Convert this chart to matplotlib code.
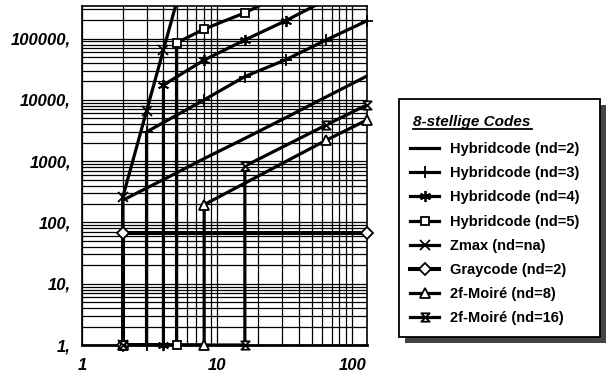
import matplotlib
matplotlib.use("Agg")
import matplotlib.pyplot as plt
from matplotlib.path import Path
from matplotlib.patches import Rectangle
from matplotlib.lines import Line2D
from matplotlib.ticker import FixedLocator, LogLocator, NullFormatter

# ---- data ----
hyb2_x = [2, 2, 4, 8, 16, 32, 64, 128]
hyb2_y = [1, 230, 500, 1100, 2350, 5100, 11200, 24500]
hyb3_x = [2, 3, 3, 8, 16, 32, 64, 128]
hyb3_y = [1, 1, 3000, 10000, 24000, 45000, 95000, 195000]
hyb4_x = [2, 4, 4, 8, 16, 32, 64]
hyb4_y = [1, 1, 17500, 44600, 95000, 195000, 430000]
hyb5_x = [2, 5, 5, 8, 16, 32]
hyb5_y = [1, 1, 85000, 143000, 263000, 560000]
zmax_x = [2, 2, 3, 4, 5]
zmax_y = [1, 256, 6561, 65536, 390625]
gray_x = [2, 2, 128]
gray_y = [1, 66, 66]
moire8_x = [2, 8, 8, 64, 128]
moire8_y = [1, 1, 195, 2200, 4700]
moire16_x = [2, 16, 16, 64, 128]
moire16_y = [1, 1, 830, 3900, 8300]

labels = ["Hybridcode (nd=2)", "Hybridcode (nd=3)", "Hybridcode (nd=4)",
          "Hybridcode (nd=5)", "Zmax (nd=na)", "Graycode (nd=2)",
          "2f-Moiré (nd=8)", "2f-Moiré (nd=16)"]
legend_title = "8-stellige Codes"
ytick_vals = [1, 10, 100, 1000, 10000, 100000]
ytick_labels = ["1,", "10,", "100,", "1000,", "10000,", "100000,"]
xtick_vals = [1, 10, 100]
xtick_labels = ["1", "10", "100"]

plt.rcParams['font.family'] = ['Liberation Sans', 'DejaVu Sans']

W, H = 607, 375
fig = plt.figure(figsize=(W / 100, H / 100), dpi=100)
ax = fig.add_axes([82 / W, 1 - 345 / H, (367 - 82) / W, (345 - 6) / H])
ax.set_xscale('log')
ax.set_yscale('log')
YMAX = 3.4e5
ax.set_xlim(1, 128)
ax.set_ylim(1, YMAX)

hourglass = Path([(-1, 1), (1, 1), (-1, -1), (1, -1), (-1, 1)],
                 [Path.MOVETO, Path.LINETO, Path.LINETO, Path.LINETO, Path.CLOSEPOLY])

series = [
    (hyb2_x, hyb2_y, dict(marker=None), 2.3),
    (hyb3_x, hyb3_y, dict(marker='+', ms=8), 2.3),
    (hyb4_x, hyb4_y, dict(marker=(6, 2, 0), ms=8), 2.3),
    (hyb5_x, hyb5_y, dict(marker='s', ms=6, mfc='white'), 2.3),
    (zmax_x, zmax_y, dict(marker='x', ms=7), 2.3),
    (gray_x, gray_y, dict(marker='D', ms=6, mfc='white'), 2.9),
    (moire8_x, moire8_y, dict(marker='^', ms=7, mfc='white'), 2.3),
    (moire16_x, moire16_y, dict(marker=hourglass, ms=6, mfc='white'), 2.3),
]
handles = []
for (xs, ys, st, lw), lab in zip(series, labels):
    ax.plot(xs, ys, color='black', lw=lw, zorder=3)
    if st['marker'] is not None:
        mx = [x for x, y in zip(xs, ys) if y <= YMAX]
        my = [y for y in ys if y <= YMAX]
        ax.plot(mx, my, ls='none', color='black', mec='black', mew=1.3,
                zorder=4, clip_on=False, **st)
    handles.append(Line2D([], [], color='black', lw=lw, mec='black', mew=1.3, **st))

ax.grid(True, which='both', color='black', lw=0.9)
ax.set_axisbelow(True)
ax.yaxis.set_major_locator(FixedLocator(ytick_vals))
ax.set_yticklabels(ytick_labels)
ax.yaxis.set_minor_locator(LogLocator(base=10, subs=range(2, 10), numticks=20))
ax.yaxis.set_minor_formatter(NullFormatter())
ax.xaxis.set_major_locator(FixedLocator(xtick_vals))
ax.set_xticklabels(xtick_labels)
ax.xaxis.set_minor_locator(LogLocator(base=10, subs=range(2, 10), numticks=20))
ax.xaxis.set_minor_formatter(NullFormatter())
ax.tick_params(which='both', length=0)
ax.tick_params(axis='y', pad=8)
ax.tick_params(axis='x', pad=9)
for t in ax.get_yticklabels() + ax.get_xticklabels():
    t.set_fontsize(12)
    t.set_fontweight('bold')
    t.set_fontstyle('italic')
for s in ax.spines.values():
    s.set_linewidth(1.2)
ax.spines['bottom'].set_linewidth(2.0)

# legend box with shadow
bx0, by0, bx1, by1 = 399, 99, 600, 337
sh = 6
fig.patches.append(Rectangle(((bx0 + sh) / W, 1 - (by1 + sh) / H), (bx1 - bx0) / W, (by1 - by0) / H,
                             transform=fig.transFigure, facecolor='#444444', edgecolor='none', zorder=1))
fig.patches.append(Rectangle((bx0 / W, 1 - by1 / H), (bx1 - bx0) / W, (by1 - by0) / H,
                             transform=fig.transFigure, facecolor='white', edgecolor='black', lw=1.3, zorder=2))
fig.text(413 / W, 1 - 122 / H, legend_title, fontsize=11, fontweight='bold', fontstyle='italic',
         ha='left', va='center', zorder=5)
fig.add_artist(Line2D([413 / W, 532 / W], [1 - 129 / H, 1 - 129 / H], color='black', lw=1.3,
                      transform=fig.transFigure, zorder=5))

leg = fig.legend(handles=handles, labels=labels, loc='upper left',
                 bbox_to_anchor=(410 / W, 1 - 142 / H),
                 frameon=False, prop=dict(weight='bold', size=10.5),
                 handlelength=2.0, handletextpad=0.75, labelspacing=0.70,
                 borderpad=0, borderaxespad=0)
leg.set_zorder(6)

fig.savefig('out.png', dpi=100)
